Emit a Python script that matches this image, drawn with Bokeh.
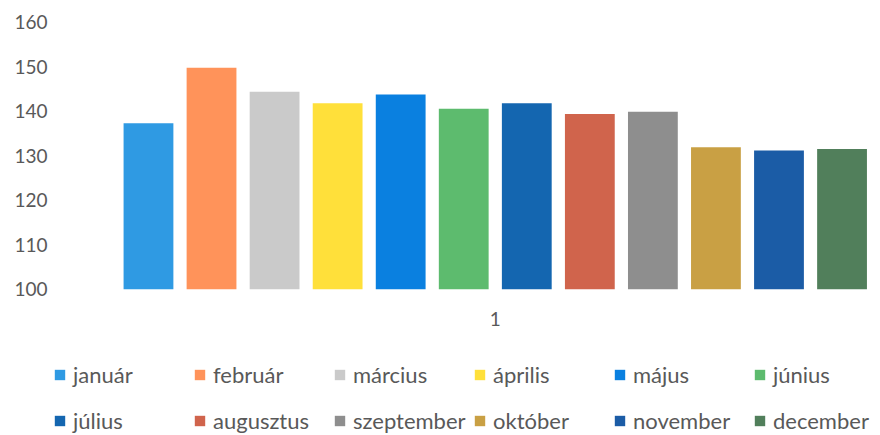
from bokeh.plotting import figure
from bokeh.models import Range1d, FixedTicker, Legend, LegendItem, ColumnDataSource
from bokeh.embed import file_html
from bokeh.resources import INLINE

months = ["január", "február", "március", "április", "május", "június",
          "július", "augusztus", "szeptember", "október", "november", "december"]
values = [137.3, 149.8, 144.4, 141.8, 143.8, 140.6, 141.8, 139.4, 139.9, 131.9, 131.2, 131.5]
colors = ["#2F9AE3", "#FF935A", "#CACACA", "#FFE03A", "#0A80E0", "#5DBB6E",
          "#1466B0", "#D0644C", "#8E8E8E", "#C9A044", "#1B5CA6", "#517F5B"]
category_label = "1"
y_ticks = [100, 110, 120, 130, 140, 150, 160]

FONT = "Lato"
TXT = "#595959"

# frame covers the whole canvas; axes are pinned at fixed data locations
p = figure(width=880, height=435, output_backend="svg", toolbar_location=None,
           x_range=Range1d(-2.347, 11.61), y_range=Range1d(67.1, 164.92),
           min_border_left=0, min_border_right=0, min_border_top=0,
           min_border_bottom=0)
p.outline_line_color = None
p.xgrid.visible = False
p.ygrid.visible = False
p.background_fill_color = "white"
p.border_fill_color = "white"

items = []
for i, (m, v, c) in enumerate(zip(months, values, colors)):
    src = ColumnDataSource(dict(x=[i], top=[v]))
    r = p.vbar(x="x", top="top", bottom=y_ticks[0], width=0.79, source=src,
               fill_color=c, line_color=None)
    items.append(LegendItem(label=m, renderers=[r]))

p.yaxis.fixed_location = -1.396
p.yaxis.ticker = FixedTicker(ticks=y_ticks)
p.yaxis.axis_line_color = None
p.yaxis.major_tick_line_color = None
p.yaxis.minor_tick_line_color = None
p.yaxis.major_tick_out = 0
p.yaxis.major_tick_in = 0
p.yaxis.major_label_standoff = 13
p.yaxis.major_label_text_font = FONT
p.yaxis.major_label_text_font_size = "19px"
p.yaxis.major_label_text_color = TXT

center = (len(months) - 1) / 2
p.xaxis.fixed_location = y_ticks[0]
p.xaxis.ticker = FixedTicker(ticks=[center])
p.xaxis.major_label_overrides = {center: category_label}
p.xaxis.axis_line_color = None
p.xaxis.major_tick_line_color = None
p.xaxis.minor_tick_line_color = None
p.xaxis.major_tick_out = 0
p.xaxis.major_tick_in = 0
p.xaxis.major_label_standoff = 23
p.xaxis.major_label_text_font = FONT
p.xaxis.major_label_text_font_size = "19px"
p.xaxis.major_label_text_color = TXT

common = dict(orientation="horizontal", padding=0, margin=0,
              spacing=7, glyph_width=13, glyph_height=13, label_standoff=7,
              label_width=113, border_line_color=None,
              background_fill_alpha=0, label_text_font=FONT,
              label_text_font_size="22px", label_text_color=TXT)
legend1 = Legend(items=items[:6], location=(53, 47), **common)
legend2 = Legend(items=items[6:], location=(53, 1), **common)
p.add_layout(legend1, "center")
p.add_layout(legend2, "center")

open("out.html", "w").write(file_html(p, INLINE))
